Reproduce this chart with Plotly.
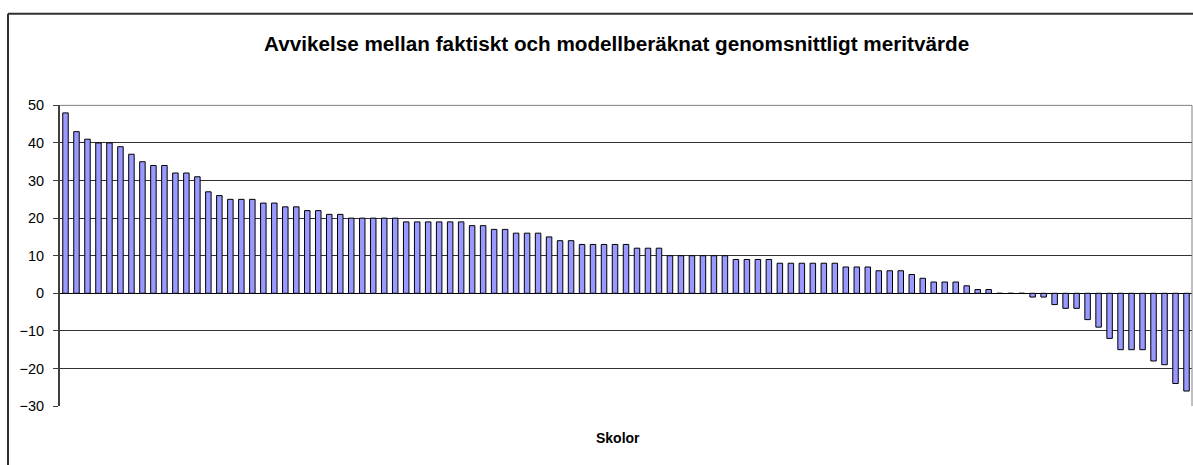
import plotly.graph_objects as go

title_text = "Avvikelse mellan faktiskt och modellberäknat genomsnittligt meritvärde"
x_title = "Skolor"

values = [48, 43, 41, 40, 40, 39, 37, 35, 34, 34, 32, 32, 31, 27, 26, 25, 25, 25, 24, 24,
          23, 23, 22, 22, 21, 21, 20, 20, 20, 20, 20, 19, 19, 19, 19, 19, 19, 18, 18, 17,
          17, 16, 16, 16, 15, 14, 14, 13, 13, 13, 13, 13, 12, 12, 12, 10, 10, 10, 10, 10,
          10, 9, 9, 9, 9, 8, 8, 8, 8, 8, 8, 7, 7, 7, 6, 6, 6, 5, 4, 3,
          3, 3, 2, 1, 1, 0, 0, 0, -1, -1, -3, -4, -4, -7, -9, -12, -15, -15, -15, -18,
          -19, -24, -26]
schools = list(range(1, len(values) + 1))
y_ticks = [-30, -20, -10, 0, 10, 20, 30, 40, 50]

W, H = 1193, 465
# vertical placement calibrated to the rendered page (offset/scale observed)
V_OFF, V_SCALE = 8.37, 0.9633
def px(x): return x / W
def py(y): return 1 - ((y - V_OFF) / V_SCALE) / H

FONT = "Liberation Sans, Arial, sans-serif"

fig = go.Figure(go.Bar(
    x=schools, y=values,
    marker=dict(color="#9999FF", line=dict(color="#000000", width=1)),
    width=0.5,
))

fig.update_layout(
    width=W, height=H, autosize=False,
    margin=dict(l=0, r=0, t=0, b=0),
    paper_bgcolor="white", plot_bgcolor="white",
    showlegend=False,
    font=dict(family=FONT, color="#000000"),
    xaxis=dict(
        domain=[px(60), px(1192)],
        range=[0.5, len(values) + 0.5],
        showticklabels=False, showgrid=False, zeroline=False,
        showline=False, ticks="",
    ),
    yaxis=dict(
        domain=[py(405.5), py(105.5)],
        range=[-30, 50],
        tickvals=y_ticks,
        ticks="outside", ticklen=5, tickcolor="#404040", tickwidth=1,
        showgrid=True, gridcolor="#333333", gridwidth=1,
        zeroline=True, zerolinecolor="#000000", zerolinewidth=1,
        showline=True, linecolor="#404040", linewidth=2,
        tickfont=dict(size=14.5, family=FONT),
        ticklabelstandoff=6,
    ),
    annotations=[
        dict(text="<b>" + title_text + "</b>", x=px(616), y=py(44), xref="paper", yref="paper",
             xanchor="center", yanchor="middle", showarrow=False,
             font=dict(size=20.7, family=FONT)),
        dict(text="<b>" + x_title + "</b>", x=px(618), y=py(437), xref="paper", yref="paper",
             xanchor="center", yanchor="middle", showarrow=False,
             font=dict(size=14, family=FONT)),
    ],
    shapes=[
        # outer chart frame
        dict(type="line", xref="paper", yref="paper", x0=px(8), x1=1.01, y0=py(14), y1=py(14),
             line=dict(color="#303030", width=2)),
        dict(type="line", xref="paper", yref="paper", x0=px(8), x1=px(8), y0=py(14), y1=-0.05,
             line=dict(color="#303030", width=2)),
        # plot area border (top, right)
        dict(type="line", xref="paper", yref="paper", x0=px(60), x1=px(1192), y0=py(105.5), y1=py(105.5),
             line=dict(color="#808080", width=1)),
        dict(type="line", xref="paper", yref="paper", x0=px(1192), x1=px(1192), y0=py(105.5), y1=py(405.5),
             line=dict(color="#808080", width=1)),
    ],
)

post = (
    "document.documentElement.style.margin='0';"
    "document.documentElement.style.padding='0';"
    "document.documentElement.style.overflow='hidden';"
    "document.body.style.margin='0';"
    "document.body.style.padding='0';"
    "document.body.style.overflow='hidden';"
)

fig.write_html(
    "out.html",
    config={"responsive": False, "displayModeBar": False},
    post_script=post,
)
